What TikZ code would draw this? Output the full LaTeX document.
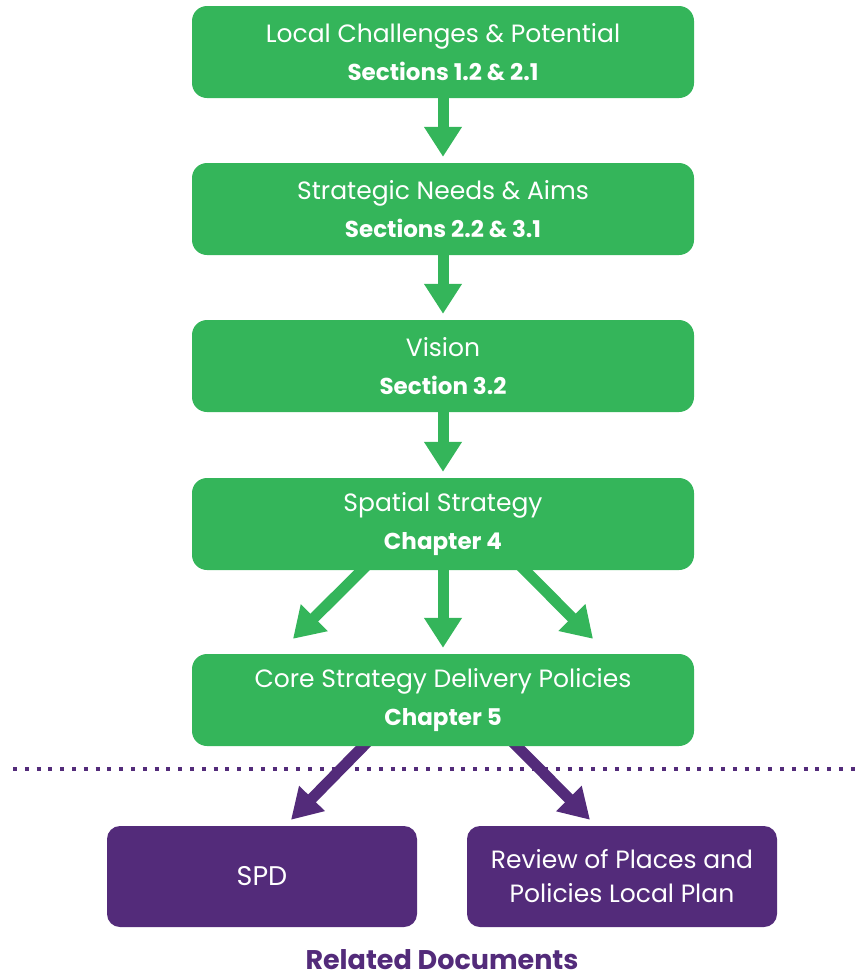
\documentclass[tikz,border=0pt]{standalone}
\usepackage{fontspec}
\setmainfont{Poppins}
\usetikzlibrary{arrows.meta,calc,backgrounds}
\definecolor{pgreen}{HTML}{34B55A}
\definecolor{ppurple}{HTML}{532B7A}
\tikzset{
  gbox/.style={fill=pgreen, rounded corners=15pt, minimum width=502pt, minimum height=92pt, inner sep=0pt, text=white, align=center, font=\fontsize{25}{38}\selectfont},
  pbox/.style={fill=ppurple, rounded corners=13pt, minimum width=310pt, minimum height=101pt, inner sep=0pt, text=white, align=center, font=\fontsize{25}{34}\selectfont},
  garrow/.style={pgreen, line width=11pt, -{Triangle[width=36pt,length=30pt]}},
  parrow/.style={ppurple, line width=11pt, -{Triangle[width=34pt,length=30pt]}},
  dotline/.style={ppurple, line width=4pt, dash pattern=on 4pt off 7.8pt},
}
\newcommand{\subl}[1]{{\fontsize{23}{38}\selectfont\bfseries #1}}
\begin{document}
\begin{tikzpicture}[x=1pt,y=-1pt]
\useasboundingbox (0,0) rectangle (855,978);
\node[gbox] (b1) at (443,52) {Local Challenges \& Potential\\\subl{Sections 1.2 \& 2.1}};
\node[gbox] (b2) at (443,209) {Strategic Needs \& Aims\\\subl{Sections 2.2 \& 3.1}};
\node[gbox] (b3) at (443,366) {Vision\\\subl{Section 3.2}};
\node[gbox] (b4) at (443,524) {Spatial Strategy\\\subl{Chapter 4}};
\node[gbox] (b5) at (443,700) {Core Strategy Delivery Policies\\\subl{Chapter 5}};
\node[pbox] (s1) at (262,876.5) {\fontsize{27}{34}\selectfont SPD};
\node[pbox] (s2) at (622,876.5) {Review of Places and\\Policies Local Plan};
\node[text=ppurple, inner sep=0pt, font=\fontsize{27}{30}\selectfont\bfseries] (rd) at (442,960) {Related Documents};
\coordinate (d1) at (13,769);
\coordinate (d2) at (855,769);
\begin{scope}[on background layer]
\draw[garrow, shorten >=6pt] (b1.south) -- (b2.north);
\draw[garrow, shorten >=6pt] (b2.south) -- (b3.north);
\draw[garrow, shorten >=6pt] (b3.south) -- (b4.north);
\draw[garrow, shorten >=6pt] (b4.south) -- (b5.north);
\draw[garrow] ($(b4.south)+(-71,-10)$) -- ($(b5.north)+(-150,-15)$);
\draw[garrow] ($(b4.south)+(72,-10)$) -- ($(b5.north)+(150,-15)$);
\draw[dotline] (d1) -- (d2);
\draw[parrow] ($(b5.south)+(-66,-14)$) -- ($(s1.north)+(29,-6)$);
\draw[parrow] ($(b5.south)+(64,-10)$) -- ($(s2.north)+(-32,-6)$);
\end{scope}
\end{tikzpicture}
\end{document}
